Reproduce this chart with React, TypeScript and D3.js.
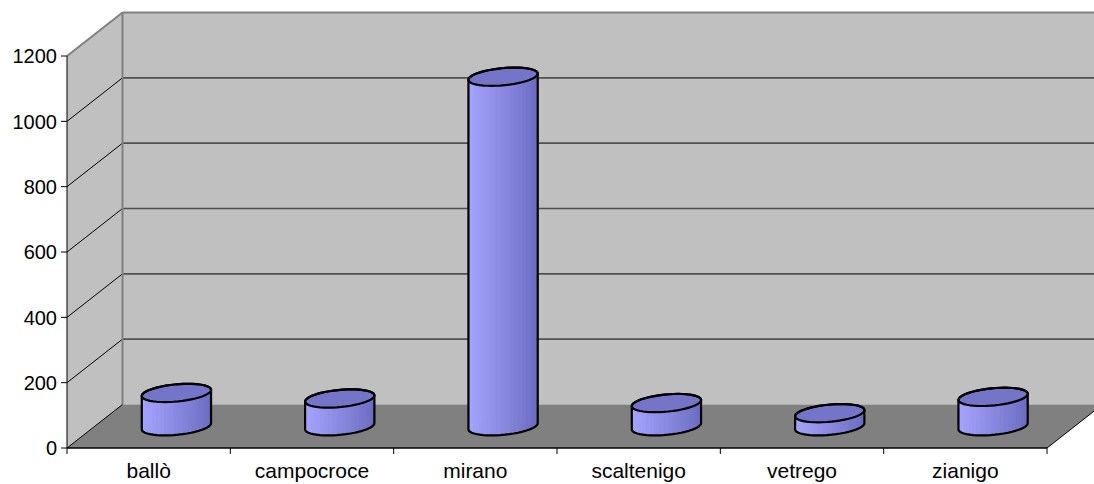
import React from 'react';
import * as d3 from 'd3';

// Counts per locality
const categories = ['ballò', 'campocroce', 'mirano', 'scaltenigo', 'vetrego', 'zianigo'];
const values = [102, 85, 1070, 71, 40, 90];
const yTicks = [0, 200, 400, 600, 800, 1000, 1200];

const W = 1094;
const H = 484;
const FONT = '"Liberation Sans", Arial, sans-serif';

// front plane of the plot box, and the oblique depth offset of the back plane
const plot = { left: 67, right: 1047, bottom: 448, top: 56 };
const depth = { dx: 55.5, dy: -43.5 };

type Pt = [number, number];

export default function App() {
  const x = d3.scaleBand<string>().domain(categories).range([plot.left, plot.right]).padding(0);
  const y = d3.scaleLinear().domain([0, 1200]).range([plot.bottom, plot.top]);
  const proj = (px: number, v: number, z: number): Pt => [px + z * depth.dx, y(v) + z * depth.dy];
  const line = d3.line();

  const backTL = proj(plot.left, 1200, 1);
  const backBL = proj(plot.left, 0, 1);
  const floor: Pt[] = [proj(plot.left, 0, 0), proj(plot.right, 0, 0), proj(plot.right, 0, 1), proj(plot.left, 0, 1)];
  const leftWall: Pt[] = [proj(plot.left, 0, 0), proj(plot.left, 1200, 0), proj(plot.left, 1200, 1), proj(plot.left, 0, 1)];

  const shade = d3.interpolateRgb('#a6a6ff', '#6c6cc2');
  const N = 48;
  const rx = x.bandwidth() * 0.2;
  const rz = 0.21;

  const cylinders = categories.map((c, i) => {
    const cx = (x(c) as number) + x.bandwidth() / 2;
    const v = values[i];
    const ang = d3.range(N + 1).map((k) => (k / N) * Math.PI * 2);
    const bot = ang.map((a) => proj(cx + rx * Math.cos(a), 0, 0.5 + rz * Math.sin(a)));
    const top = ang.map((a) => proj(cx + rx * Math.cos(a), v, 0.5 + rz * Math.sin(a)));
    const all = [...bot, ...top];
    const minX = d3.min(all, (p) => p[0]) as number;
    const maxX = d3.max(all, (p) => p[0]) as number;
    const facets = d3.range(N).map((k) => {
      const mid = (ang[k] + ang[k + 1]) / 2;
      const pts: Pt[] = [bot[k], bot[k + 1], top[k + 1], top[k]];
      const mx = (bot[k][0] + bot[k + 1][0]) / 2;
      return { z: Math.sin(mid), pts, fill: shade((mx - minX) / (maxX - minX)) };
    });
    facets.sort((a, b) => b.z - a.z);
    const hull = d3.polygonHull(all) as Pt[];
    return { c, facets, top: top.slice(0, N), hull };
  });

  return (
    <svg width={W} height={H} style={{ position: 'absolute', left: 0, top: 0, display: 'block' }}>
      <rect width={W} height={H} fill="#ffffff" />

      {/* back wall */}
      <rect x={backTL[0]} y={backTL[1]} width={W - backTL[0] + 20} height={backBL[1] - backTL[1]} fill="#c0c0c0" />
      {/* left wall */}
      <path d={line(leftWall) + 'Z'} fill="#c0c0c0" />

      {/* gridlines on back wall and left wall */}
      {yTicks.filter((t) => t > 0 && t < 1200).map((t) => {
        const a = proj(plot.left, t, 0);
        const b = proj(plot.left, t, 1);
        return (
          <g key={t}>
            <line x1={b[0]} x2={W + 10} y1={b[1]} y2={b[1]} stroke="#505050" strokeWidth={1.6} />
            <line x1={a[0]} y1={a[1]} x2={b[0]} y2={b[1]} stroke="#000" strokeWidth={1} />
          </g>
        );
      })}

      {/* wall borders */}
      <line x1={backTL[0]} y1={backTL[1]} x2={W + 10} y2={backTL[1]} stroke="#808080" strokeWidth={2} />
      <line x1={backTL[0]} y1={backTL[1]} x2={backBL[0]} y2={backBL[1]} stroke="#808080" strokeWidth={2} />
      <line x1={plot.left} y1={y(1200)} x2={backTL[0]} y2={backTL[1]} stroke="#808080" strokeWidth={2} />

      {/* floor */}
      <path d={line(floor) + 'Z'} fill="#808080" />
      <line x1={floor[1][0]} y1={floor[1][1]} x2={floor[2][0]} y2={floor[2][1]} stroke="#000" strokeWidth={1} />
      <line x1={floor[0][0]} y1={floor[0][1]} x2={floor[3][0]} y2={floor[3][1]} stroke="#000" strokeWidth={1} />

      {/* cylinders */}
      {cylinders.map((cy) => (
        <g key={cy.c}>
          {cy.facets.map((f, k) => (
            <path key={k} d={line(f.pts) + 'Z'} fill={f.fill} stroke={f.fill} strokeWidth={0.6} />
          ))}
          <path d={line(cy.top) + 'Z'} fill="#7474c8" stroke="#000" strokeWidth={2.2} strokeLinejoin="round" />
          <path d={line(cy.hull) + 'Z'} fill="none" stroke="#000" strokeWidth={2.2} strokeLinejoin="round" />
        </g>
      ))}

      {/* y axis */}
      <line x1={plot.left} y1={y(1200)} x2={plot.left} y2={plot.bottom} stroke="#000" strokeWidth={1} />
      {yTicks.map((t) => (
        <g key={t}>
          <line x1={plot.left - 6} x2={plot.left} y1={y(t)} y2={y(t)} stroke="#000" strokeWidth={1} />
          <text x={plot.left - 10} y={y(t)} dy="0.36em" textAnchor="end" fontFamily={FONT} fontSize={20} fill="#000">
            {t}
          </text>
        </g>
      ))}

      {/* x axis */}
      <line x1={plot.left} y1={plot.bottom} x2={plot.right} y2={plot.bottom} stroke="#000" strokeWidth={1.5} />
      {d3.range(categories.length + 1).map((k) => {
        const px = plot.left + k * x.bandwidth();
        return <line key={k} x1={px} x2={px} y1={plot.bottom} y2={plot.bottom + 6} stroke="#000" strokeWidth={1} />;
      })}
      {categories.map((c) => (
        <text key={c} x={(x(c) as number) + x.bandwidth() / 2} y={478} textAnchor="middle" fontFamily={FONT} fontSize={21} fill="#000">
          {c}
        </text>
      ))}
    </svg>
  );
}
